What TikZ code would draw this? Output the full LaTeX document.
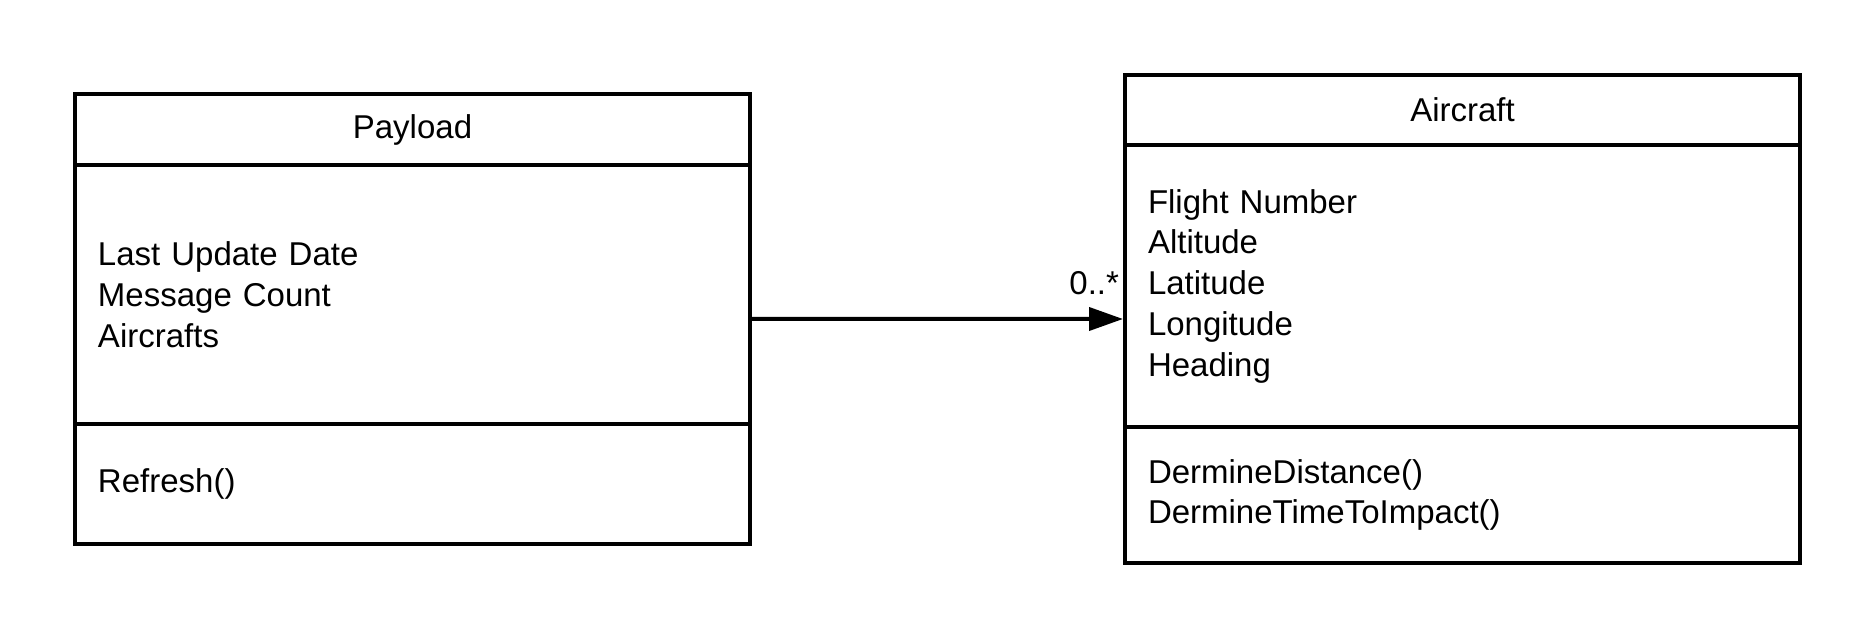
\documentclass[tikz,border=0pt]{standalone}
\usepackage{fontspec}
\setmainfont{Liberation Sans}
\usetikzlibrary{positioning,fit,arrows.meta}

\begin{document}
\begin{tikzpicture}[x=0.4pt,y=-0.4pt,line width=1.6pt,
                   every node/.style={font=\fontsize{13.2}{16.3}\selectfont},
                   title/.style={draw,outer sep=0pt,inner sep=0pt,anchor=north,minimum width=270pt,minimum height=#1},
                   field/.style={draw,outer sep=0pt,inner xsep=9.2pt,inner ysep=0pt,text width=251.6pt,align=left,minimum height=#1}]
\useasboundingbox (0,0) rectangle (1875,638);
\node[title=28.4pt] (payloadhead) at (412.5,94) {Payload};
\node[field=103.6pt,below=0pt of payloadhead] (payloadattr) {Last Update Date\\Message Count\\Aircrafts};
\node[field=48pt,below=0pt of payloadattr] (payloadops) {Refresh()};
\node[fit=(payloadhead)(payloadops),inner sep=0pt] (payload) {};
\node[title=28pt] (aircrafthead) at (1462.5,75) {Aircraft};
\node[field=112.8pt,below=0pt of aircrafthead] (aircraftattr) {Flight Number\\Altitude\\Latitude\\Longitude\\Heading};
\node[field=54.4pt,below=0pt of aircraftattr] (aircraftops) {DermineDistance()\\DermineTimeToImpact()};
\node[fit=(aircrafthead)(aircraftops),inner sep=0pt] (aircraft) {};
\draw[-{Triangle[length=13.6pt,width=9.2pt]}] (payload) -- node[pos=1,anchor=south east,inner sep=0pt,yshift=8.8pt,xshift=-0.8pt] {0..*} (aircraft);
\end{tikzpicture}
\end{document}
